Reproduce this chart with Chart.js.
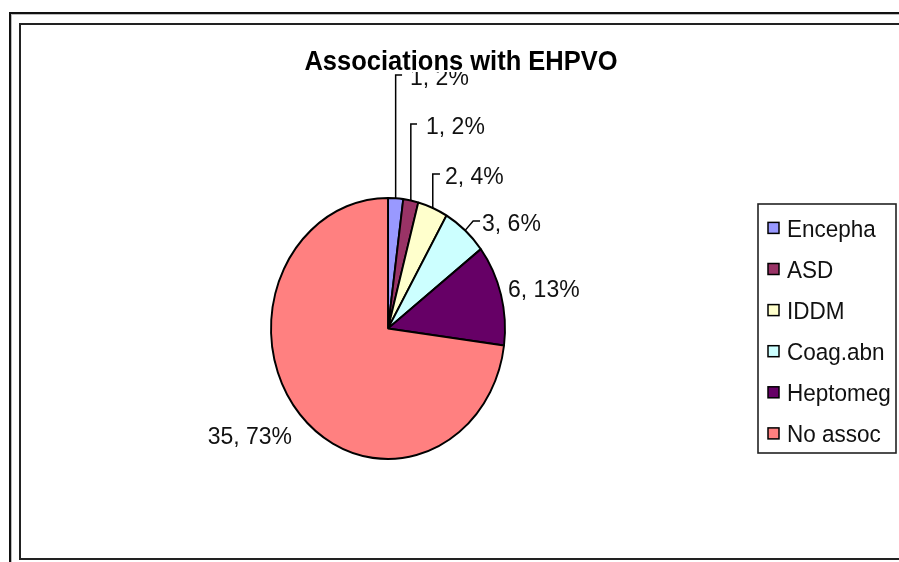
<!DOCTYPE html>
<html>
<head>
<meta charset="utf-8">
<script src="https://cdn.jsdelivr.net/npm/chart.js@4/dist/chart.umd.min.js"></script>
<style>
  html, body { margin: 0; padding: 0; background: #fff; }
  #wrap { position: relative; width: 899px; height: 562px; overflow: hidden; background: #fff; }
  #c { position: absolute; left: 0; top: 0; }
  .frame { position: absolute; box-sizing: border-box; pointer-events: none; }
  #outer { left: 9px; top: 12px; width: 1000px; height: 1000px; border-left: 2px solid #111; border-top: 2px solid #111; box-shadow: inset 1px 1px 0 #bbb; }
  #inner { left: 19px; top: 23px; width: 1000px; height: 537px; border-left: 2px solid #222; border-top: 2px solid #222; border-bottom: 2px solid #222; }
</style>
</head>
<body>
<div id="wrap">
  <canvas id="c" width="899" height="562"></canvas>
  <div id="outer" class="frame"></div>
  <div id="inner" class="frame"></div>
</div>
<script>
// ---- data ----
const chartTitle = 'Associations with EHPVO';
const categories = ['Encepha', 'ASD', 'IDDM', 'Coag.abn', 'Heptomeg', 'No assoc'];
const counts = [1, 1, 2, 3, 6, 35];
const sliceColors = ['#9999FF', '#993366', '#FFFFCC', '#CCFFFF', '#660066', '#FF8080'];

// ---- presentation ----
const total = counts.reduce((a, b) => a + b, 0);
const pieCenter = { x: 388, y: 328.5 };
const radiusX = 117, radiusY = 130.5;
const stretchY = radiusY / radiusX;

// label placement relative to each slice's outer-edge midpoint (dx, dy), leader bend
const labelPlacement = [
  { dx: 14.4, dy: -113.3, align: 'left', leader: true, bend: 0, gap: 8 },
  { dx: 15.2, dy: -66.5, align: 'left', leader: true, bend: 0, gap: 9 },
  { dx: 12.2, dy: -23.9, align: 'left', leader: true, bend: 0, gap: 5 },
  { dx: 16.9, dy: 0.6, align: 'left', leader: true, bend: 8, gap: 2 },
  { dx: 7, dy: 2, align: 'left', leader: false },
  { dx: -8, dy: 29.5, align: 'right', leader: false }
];

const FONT = '"Liberation Sans", Arial, sans-serif';

function tallText(ctx, text, x, y, sy) {
  ctx.save();
  ctx.translate(x, y);
  ctx.scale(1, sy);
  ctx.fillText(text, 0, 0);
  ctx.restore();
}

const stretchPlugin = {
  id: 'stretch',
  beforeDatasetsDraw(chart) {
    const ctx = chart.ctx;
    const arc = chart.getDatasetMeta(0).data[0];
    ctx.save();
    ctx.translate(arc.x, arc.y);
    ctx.scale(1, stretchY);
    ctx.translate(-arc.x, -arc.y);
  },
  afterDatasetsDraw(chart) {
    chart.ctx.restore();
  }
};

const decorPlugin = {
  id: 'decor',
  afterDraw(chart) {
    const ctx = chart.ctx;
    const meta = chart.getDatasetMeta(0);
    ctx.save();
    // data labels with leader lines
    ctx.font = '23px ' + FONT;
    ctx.fillStyle = '#111';
    ctx.strokeStyle = '#000';
    ctx.lineWidth = 1.5;
    meta.data.forEach((arc, i) => {
      const p = arc.getProps(['x', 'y', 'startAngle', 'endAngle', 'outerRadius'], true);
      const mid = (p.startAngle + p.endAngle) / 2;
      const ex = p.x + Math.cos(mid) * p.outerRadius;
      const ey = p.y + Math.sin(mid) * p.outerRadius * stretchY;
      const pl = labelPlacement[i];
      const tx = ex + pl.dx, ty = ey + pl.dy;
      const pct = Math.round(counts[i] / total * 100);
      const text = counts[i] + ', ' + pct + '%';
      if (pl.leader) {
        const ly = ty - 10;
        ctx.beginPath();
        ctx.moveTo(ex, ey);
        ctx.lineTo(ex + pl.bend, ly);
        ctx.lineTo(tx - pl.gap, ly);
        ctx.stroke();
      }
      ctx.textAlign = pl.align;
      ctx.textBaseline = 'alphabetic';
      tallText(ctx, text, tx, ty, 1.04);
    });

    // title with white backing
    ctx.font = 'bold 25.5px ' + FONT;
    const tw = ctx.measureText(chartTitle).width;
    ctx.fillStyle = '#fff';
    ctx.fillRect(461 - tw / 2 - 2, 44, tw + 4, 28);
    ctx.fillStyle = '#000';
    ctx.textAlign = 'center';
    tallText(ctx, chartTitle, 461, 70, 1.09);

    // legend
    const lx = 758, ly0 = 204, lw = 138, lh = 249;
    ctx.fillStyle = '#fff';
    ctx.fillRect(lx, ly0, lw, lh);
    ctx.strokeStyle = '#222';
    ctx.lineWidth = 1.6;
    ctx.strokeRect(lx, ly0, lw, lh);
    ctx.font = '22.5px ' + FONT;
    ctx.textAlign = 'left';
    categories.forEach((name, i) => {
      const base = 236.5 + i * 41.1;
      const cyy = base - 8.6;
      ctx.fillStyle = sliceColors[i];
      ctx.fillRect(768, cyy - 5.5, 11, 11);
      ctx.strokeStyle = '#000';
      ctx.lineWidth = 1.5;
      ctx.strokeRect(768, cyy - 5.5, 11, 11);
      ctx.fillStyle = '#111';
      tallText(ctx, name, 787, base, 1.1);
    });
    ctx.restore();
  }
};

new Chart(document.getElementById('c'), {
  type: 'pie',
  data: {
    labels: categories,
    datasets: [{
      data: counts,
      backgroundColor: sliceColors,
      borderColor: '#000',
      borderWidth: 1.9,
      clip: false
    }]
  },
  options: {
    responsive: false,
    animation: false,
    events: [],
    radius: radiusX,
    layout: {
      padding: {
        left: pieCenter.x - radiusX,
        right: 899 - (pieCenter.x + radiusX),
        top: pieCenter.y - radiusX,
        bottom: 562 - (pieCenter.y + radiusX)
      }
    },
    plugins: {
      legend: { display: false },
      title: { display: false },
      tooltip: { enabled: false }
    }
  },
  plugins: [stretchPlugin, decorPlugin]
});
</script>
</body>
</html>
